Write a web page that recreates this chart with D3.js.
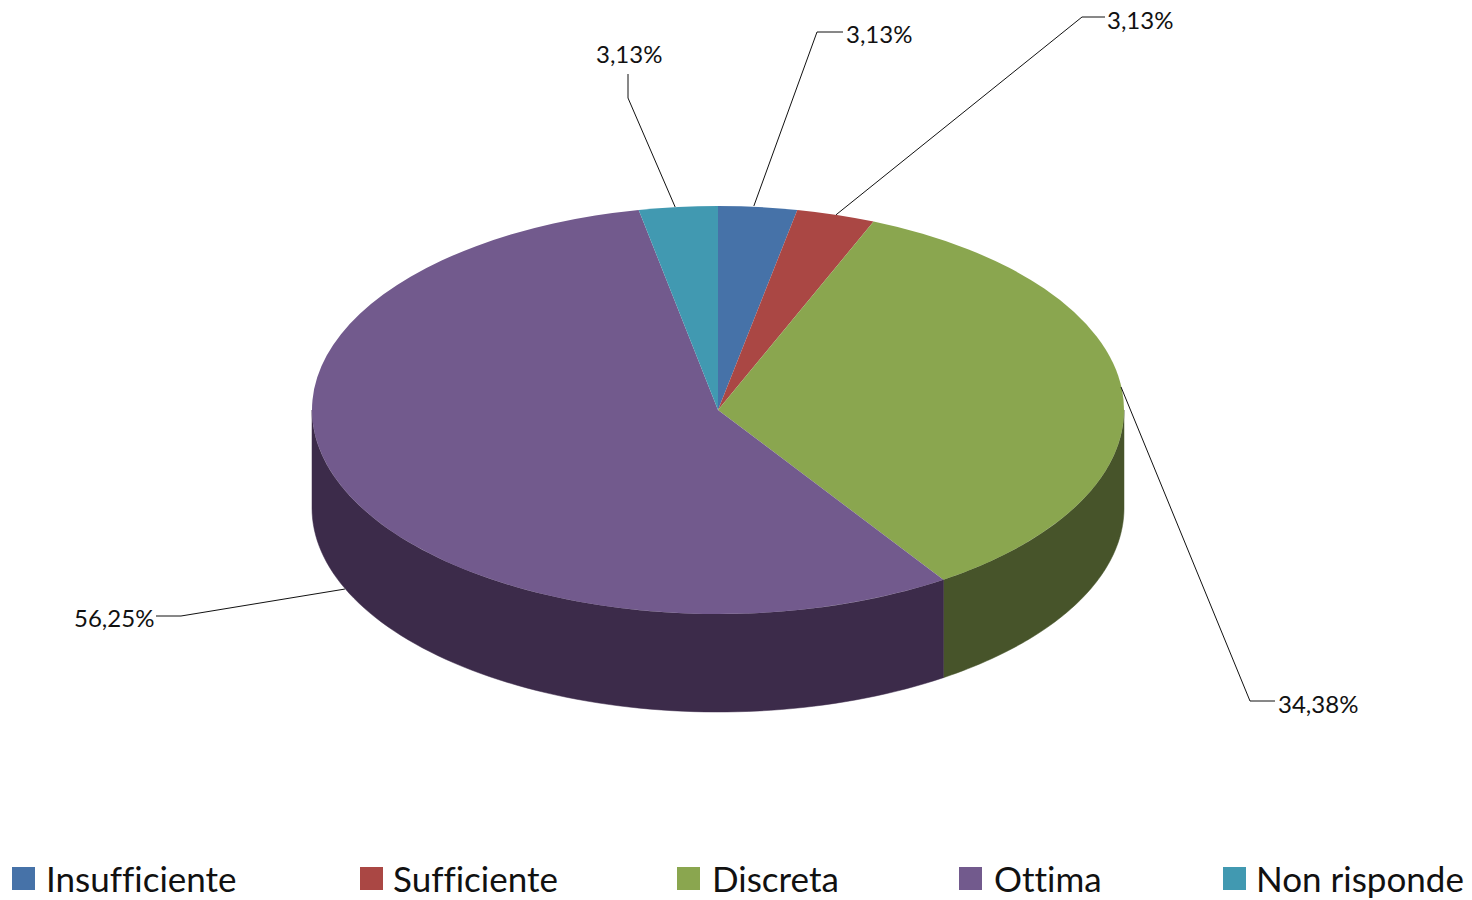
<!DOCTYPE html>
<html><head><meta charset="utf-8">
<script src="https://cdn.jsdelivr.net/npm/d3@7/dist/d3.min.js"></script>
<style>html,body{margin:0;padding:0;background:#fff;overflow:hidden}svg{display:block}text{font-family:Lato,"Noto Sans",sans-serif;fill:#111;font-variant-ligatures:none}</style>
</head><body><svg id="c" width="1472" height="900"></svg>
<script>
const categories = ["Insufficiente","Sufficiente","Discreta","Ottima","Non risponde"];
const values = [3.13,3.13,34.38,56.25,3.13];
const valueLabels = ["3,13%","3,13%","34,38%","56,25%","3,13%"];
const topColors = ["#4672A8","#AA4744","#8AA64F","#725A8D","#4199B1"];
const wallColors = ["#2A4465","#662A29","#47542A","#3C2B4A","#27606F"];
const legendSwatchX = [12,360,677,959,1223];
const legendTextX = [46,393,712,994,1256];
const labelElbows = [[817,32],[1082,17],[1250,701],[181,616],[628,98]];
const labelEnds = [[843,32],[1105,17],[1275,701],[156,616],[628,74]];
const labelPos = [[846,43],[1107,29],[1278,713],[74,627],[596,63]];
const leaderNudge = [[-4,-1],[0,0],[-1,-3],[2,3],[-3,0]];

const cx=718, cy=410, rx=406, ry=204, depth=98;
const svg=d3.select("#c");
const pieData=d3.pie().sort(null).value(d=>d)(values);
const px=a=>cx+rx*Math.sin(a), py=a=>cy-ry*Math.cos(a);
const lineGen=d3.line();

const wallG=svg.append("g");
pieData.forEach((d,i)=>{
  const a0=Math.max(d.startAngle,Math.PI/2), a1=Math.min(d.endAngle,3*Math.PI/2);
  if(a1<=a0) return;
  const n=80, s=d3.range(n+1).map(k=>a0+(a1-a0)*k/n);
  const pts=s.map(a=>[px(a),py(a)]).concat(s.slice().reverse().map(a=>[px(a),py(a)+depth]));
  wallG.append("path").attr("d",lineGen(pts)+"Z").attr("fill",wallColors[i]).attr("stroke",wallColors[i]).attr("stroke-width",.5);
});
const arcGen=d3.arc().innerRadius(0).outerRadius(rx);
const topG=svg.append("g").attr("transform",`translate(${cx},${cy}) scale(1,${ry/rx})`);
topG.selectAll("path").data(pieData).join("path").attr("d",arcGen).attr("fill",(d,i)=>topColors[i]);

pieData.forEach((d,i)=>{
  const m=(d.startAngle+d.endAngle)/2;
  const onWall=m>Math.PI/2+.3&&m<3*Math.PI/2;
  const start=[px(m)+leaderNudge[i][0],py(m)+(onWall?depth:0)+leaderNudge[i][1]];
  svg.append("path").attr("d",lineGen([start,labelElbows[i],labelEnds[i]])).attr("fill","none").attr("stroke","#111").attr("stroke-width",1);
  svg.append("text").attr("x",labelPos[i][0]).attr("y",labelPos[i][1]).attr("font-size",24).text(valueLabels[i]);
});
categories.forEach((c,i)=>{
  svg.append("rect").attr("x",legendSwatchX[i]).attr("y",867).attr("width",23).attr("height",23).attr("fill",topColors[i]);
  svg.append("text").attr("x",legendTextX[i]).attr("y",892).attr("font-size",35).text(c);
});
</script></body></html>
